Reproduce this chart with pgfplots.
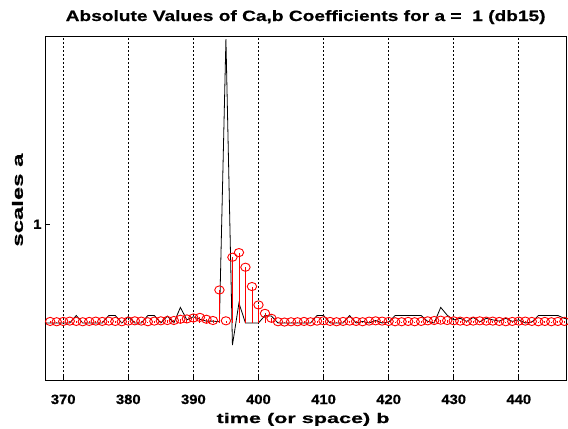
\documentclass[border=0pt]{standalone}
\usepackage{fontspec}
\setmainfont{Liberation Sans}
\newfontfamily\titlefont[FakeStretch=1.28,FakeBold=0.6]{Liberation Sans}
\newfontfamily\xlabfont[FakeStretch=1.55,FakeBold=0.6]{Liberation Sans}
\newfontfamily\ylabfont[FakeStretch=1.6,FakeBold=0.6]{Liberation Sans}
\newfontfamily\tickfont[FakeStretch=1.1,FakeBold=0.6]{Liberation Sans}
\usepackage{pgfplots}
\pgfplotsset{compat=1.18}
\pgfplotstableread{
b y
367 0
368 0
369 0
370 0
371 0
372 0.024
373 0
374 0
375 0
376 0
377 0.024
378 0.024
379 0
380 0.02
381 0
382 0
383 0.024
384 0.024
385 0
386 0.022
387 0
388 0.05
389 0.01
390 0.02
391 0.012
392 0.006
393 0.006
394 0.004
395 0.911
396 -0.071
397 0.064
398 0
399 0
400 0
401 0.024
402 0.022
403 0
404 0
405 0
406 0
407 0
408 0
409 0.024
410 0.024
411 0
412 0
413 0
414 0.024
415 0
416 0.005
417 0
418 0.008
419 0
420 0.003
421 0.024
422 0.024
423 0.024
424 0.024
425 0.024
426 0.005
427 0
428 0.05
429 0.025
430 0.01
431 0.015
432 0.005
433 0.018
434 0.004
435 0.015
436 0.01
437 0.006
438 0.015
439 0.005
440 0.01
441 0
442 0.003
443 0.024
444 0.024
445 0.024
446 0.024
447 0.015
448 0.01
}\blackline
\pgfplotstableread{
b y
367 0.005
368 0.005
369 0.004
370 0.005
371 0.006
372 0.005
373 0.004
374 0.005
375 0.006
376 0.005
377 0.006
378 0.005
379 0.004
380 0.006
381 0.007
382 0.006
383 0.004
384 0.006
385 0.007
386 0.008
387 0.008
388 0.012
389 0.013
390 0.016
391 0.018
392 0.012
393 0.008
394 0.106
395 0.007
396 0.211
397 0.226
398 0.179
399 0.117
400 0.058
401 0.031
402 0.015
403 0.004
404 0.003
405 0.004
406 0.004
407 0.005
408 0.004
409 0.006
410 0.007
411 0.005
412 0.004
413 0.005
414 0.006
415 0.005
416 0.004
417 0.006
418 0.007
419 0.006
420 0.005
421 0.004
422 0.004
423 0.005
424 0.004
425 0.005
426 0.007
427 0.008
428 0.009
429 0.008
430 0.007
431 0.006
432 0.005
433 0.006
434 0.007
435 0.006
436 0.006
437 0.005
438 0.004
439 0.005
440 0.006
441 0.006
442 0.005
443 0.004
444 0.005
445 0.004
446 0.005
447 0.005
}\redstem
\begin{document}
\begin{tikzpicture}
\useasboundingbox (-45bp,-49bp) rectangle (523bp,380bp);
\begin{axis}[
  at={(0,0)}, anchor=south west,
  scale only axis, width=521.3bp, height=343.3bp,
  xmin=367.2, xmax=447.3, ymin=-0.183, ymax=0.919,
  xtick={370,380,...,440}, ytick={0.317}, yticklabels={1},
  xmajorgrids,
  major grid style={black, dash pattern=on 2bp off 2bp, line width=0.7bp},
  tick align=inside, xtick pos=left, ytick pos=left,
  major tick length=5bp,
  tick style={black, line width=0.8bp},
  axis line style={black, line width=0.9bp},
  /pgf/number format/assume math mode=true,
  /pgf/number format/set thousands separator={},
  xticklabel style={font=\tickfont\bfseries\fontsize{13.5}{13.5}\selectfont, anchor=base, yshift=-24bp},
  yticklabel style={font=\tickfont\bfseries\fontsize{13.5}{13.5}\selectfont},
  xlabel={time (or space) b},
  ylabel={scales a},
  xlabel style={font=\xlabfont\bfseries\fontsize{14}{14}\selectfont, at={([yshift=-43bp]axis description cs:0.495,0)}, anchor=base},
  ylabel style={font=\ylabfont\bfseries\fontsize{15}{15}\selectfont, at={([xshift=-27.5bp]axis description cs:0,0.524)}, anchor=center, rotate=0},
  title={Absolute Values of Ca,b Coefficients for a =\ \ 1 (db15)},
  title style={font=\titlefont\bfseries\fontsize{15}{15}\selectfont, at={([yshift=9.7bp]axis description cs:0.5,1)}, anchor=base},
  clip=true,
]
\addplot[black, line width=0.8bp, mark=none] table[x=b, y=y] {\blackline};
\addplot[red, line width=0.8bp, ycomb, mark=o, mark size=4.1bp, mark options={line width=0.9bp, xscale=1.15}] table[x=b, y=y] {\redstem};
\end{axis}
\end{tikzpicture}
\end{document}
